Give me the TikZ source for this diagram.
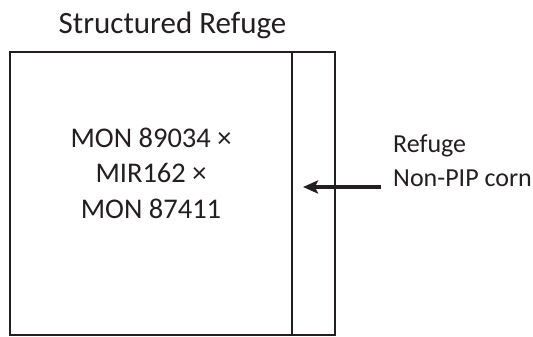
\documentclass[tikz,border=0pt]{standalone}
\usepackage{fontspec}
\setmainfont{Carlito}
\usetikzlibrary{arrows.meta}
\definecolor{ink}{HTML}{231F20}
\begin{document}
\begin{tikzpicture}[x=1pt,y=-1pt,
  boxline/.style={draw=ink,line width=1.6pt},
  lbl/.style={text=ink,inner sep=0pt,anchor=base west,font=\fontsize{26}{31}\selectfont},
  maintext/.style={text=ink,inner sep=0pt,anchor=base,font=\fontsize{28.5}{35}\selectfont},
  bigarrow/.style={draw=ink,line width=4.5pt,-{Stealth[length=15pt,width=13pt,inset=3pt]}}]
\useasboundingbox (0,0) rectangle (533,337);
\node[text=ink,inner sep=0pt,anchor=base,font=\fontsize{31}{37}\selectfont] (title) at (172.5,34) {Structured Refuge};
\draw[boxline] (10,52) rectangle (335,335);
\draw[boxline] (292,52) -- (292,335);
\node[maintext] (m1) at (151,147) {MON 89034 ×};
\node[maintext] (m2) at (151,182) {MIR162 ×};
\node[maintext] (m3) at (151,218) {MON 87411};
\node[lbl] (r1) at (393,152) {Refuge};
\node[lbl] (r2) at (393,186) {Non-PIP corn};
\coordinate (as) at (381,187);
\coordinate (ae) at (303,187);
\draw[bigarrow] (as) -- (ae);
\end{tikzpicture}
\end{document}
